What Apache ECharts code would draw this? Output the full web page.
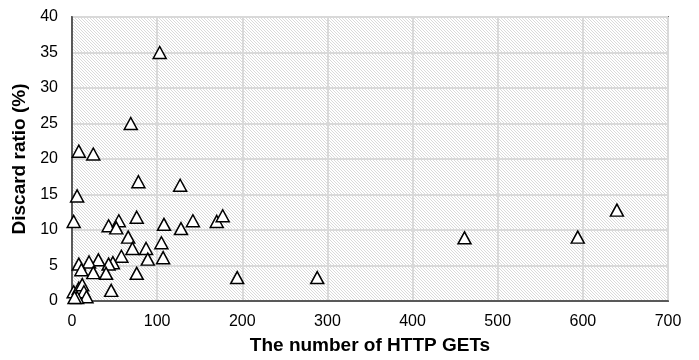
<!DOCTYPE html>
<html>
<head>
<meta charset="utf-8">
<script src="https://cdn.jsdelivr.net/npm/echarts@6/dist/echarts.min.js"></script>
<style>html,body{margin:0;padding:0;background:#fff}#c{width:699px;height:360px}</style>
</head>
<body>
<div id="c"></div>
<script>
const xValues = [103, 69, 8, 25, 78, 127, 6, 2,
  43, 55, 52, 76, 108, 128, 142, 170, 177,
  66, 71, 87, 105, 107, 89, 58, 48, 43,
  40, 76, 31, 20, 8, 11, 25, 46,
  2, 8, 12, 14, 17, 6, 3,
  194, 288, 461, 594, 640];
const yValues = [35, 25, 21.1, 20.7, 16.8, 16.3, 14.8, 11.2,
  10.6, 11.3, 10.3, 11.8, 10.8, 10.2, 11.3, 11.2, 12.0,
  9.0, 7.4, 7.4, 8.2, 6.1, 5.9, 6.3, 5.4, 5.2,
  3.9, 3.9, 5.8, 5.5, 5.2, 4.4, 4.0, 1.5,
  1.3, 1.8, 2.3, 1.3, 0.6, 0.5, 0.5,
  3.3, 3.3, 8.9, 9.0, 12.8];
const xTicks = [0, 100, 200, 300, 400, 500, 600, 700];
const yTicks = [0, 5, 10, 15, 20, 25, 30, 35, 40];
const xTitle = 'The number of HTTP GETs';
const yTitle = 'Discard ratio (%)';

const pts = xValues.map((x, i) => [x, yValues[i]]);

const pc = document.createElement('canvas');
pc.width = 3; pc.height = 3;
const g = pc.getContext('2d');
g.fillStyle = '#ffffff'; g.fillRect(0, 0, 3, 3);
g.strokeStyle = '#d6d6d6'; g.lineWidth = 0.9;
g.beginPath();
g.moveTo(-1, -1); g.lineTo(4, 4);
g.moveTo(-1, 2); g.lineTo(1, 4);
g.moveTo(2, -1); g.lineTo(4, 1);
g.stroke();

const chart = echarts.init(document.getElementById('c'));
chart.setOption({
  animation: false,
  grid: {
    left: 72, right: 31, top: 17, bottom: 55,
    show: true,
    backgroundColor: {image: pc, repeat: 'repeat'},
    borderColor: '#000', borderWidth: 1.5
  },
  xAxis: {
    type: 'value', min: xTicks[0], max: xTicks[xTicks.length - 1], interval: 100,
    name: xTitle, nameLocation: 'middle', nameGap: 35,
    nameTextStyle: {fontFamily: 'Liberation Sans', fontWeight: 'bold', fontSize: 19, color: '#000'},
    axisLine: {lineStyle: {color: '#595959', width: 2}},
    axisTick: {show: false},
    axisLabel: {fontFamily: 'Liberation Sans', fontSize: 16, color: '#000', margin: 13},
    splitLine: {lineStyle: {color: '#d9d9d9', width: 2}}
  },
  yAxis: {
    type: 'value', min: yTicks[0], max: yTicks[yTicks.length - 1], interval: 5,
    name: yTitle, nameLocation: 'middle', nameGap: 38,
    nameTextStyle: {fontFamily: 'Liberation Sans', fontWeight: 'bold', fontSize: 19, color: '#000'},
    axisLine: {show: true, lineStyle: {color: '#595959', width: 2}},
    axisTick: {show: false},
    axisLabel: {fontFamily: 'Liberation Sans', fontSize: 16, color: '#000', margin: 14},
    splitLine: {lineStyle: {color: '#d9d9d9', width: 2}}
  },
  series: [{
    type: 'scatter',
    data: pts,
    symbol: 'triangle',
    symbolSize: [13, 12],
    itemStyle: {color: '#ffffff', borderColor: '#000', borderWidth: 1.5, opacity: 1}
  }]
});
</script>
</body>
</html>
